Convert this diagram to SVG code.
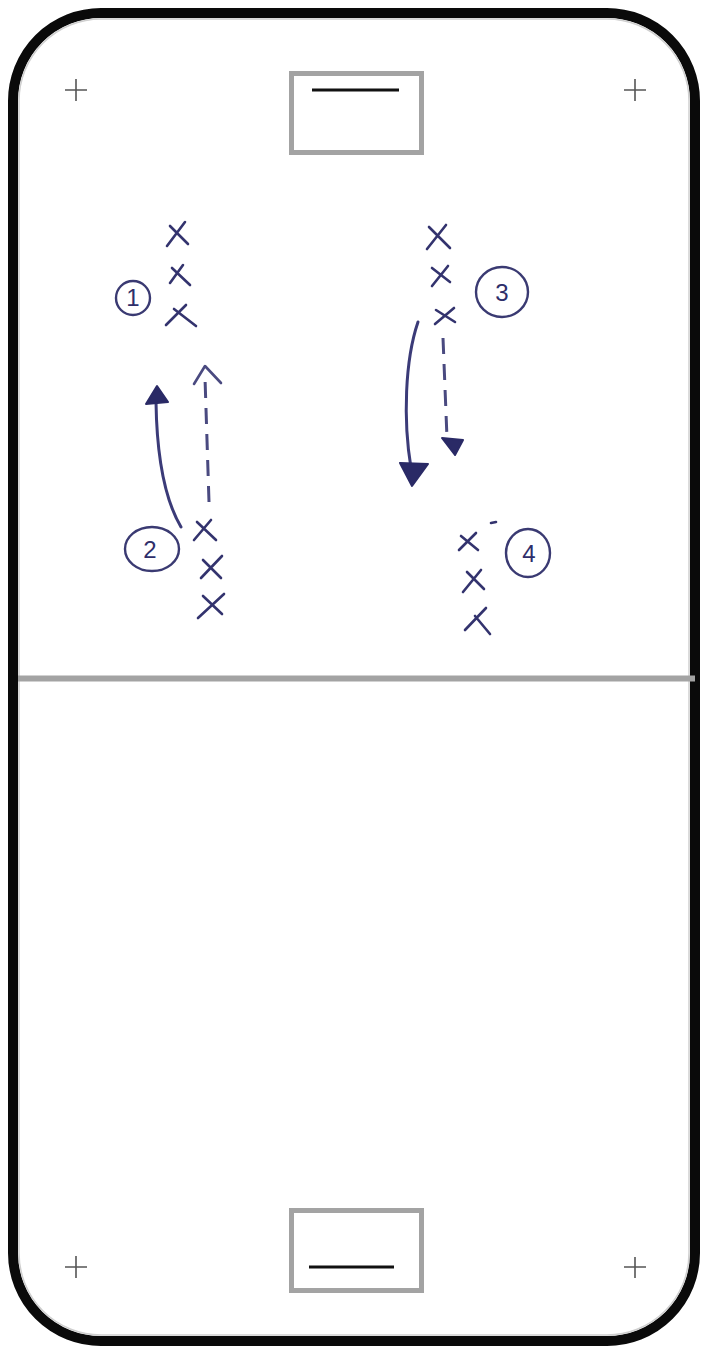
<svg xmlns="http://www.w3.org/2000/svg" width="702" height="1349" viewBox="0 0 702 1349">
  <defs>
    <style>
      .frame { fill: none; stroke: #0a0a0a; stroke-width: 10; }
      .frame-inner { fill: none; stroke: #cfcfcf; stroke-width: 1.5; }
      .halfway { stroke: #a3a3a3; stroke-width: 6; }
      .goal { fill: #ffffff; stroke: #a3a3a3; stroke-width: 5; }
      .goal-line { stroke: #111111; stroke-width: 3; }
      .corner { stroke: #555555; stroke-width: 1.6; }
      .player { fill: none; stroke: #33336e; stroke-width: 2.6; stroke-linecap: round; }
      .tag { fill: none; stroke: #3a3a72; stroke-width: 2.4; }
      .tag-text { font-family: "Liberation Sans", Arial, sans-serif; font-size: 24px; fill: #2e2e6a; text-anchor: middle; }
      .run { fill: none; stroke: #3b3b78; stroke-width: 3; stroke-linecap: round; }
      .pass { fill: none; stroke: #4a4a80; stroke-width: 3; stroke-dasharray: 16 10; }
      .head { fill: #2a2a66; stroke: #2a2a66; stroke-width: 2; stroke-linejoin: round; }
      .chevron { fill: none; stroke: #4a4a80; stroke-width: 2.6; stroke-linecap: round; stroke-linejoin: round; }
    </style>
  </defs>

  <rect width="702" height="1349" fill="#ffffff"/>

  <!-- pitch outline -->
  <g id="pitch">
    <rect class="frame" x="13" y="13" width="682" height="1328" rx="88" ry="88"/>
    <rect class="frame-inner" x="19" y="19" width="670" height="1316" rx="82" ry="82"/>
    <line class="halfway" x1="18" y1="678.5" x2="695" y2="678.5"/>
  </g>

  <!-- goals -->
  <g id="goal-top">
    <rect class="goal" x="291.5" y="73.5" width="130" height="79"/>
    <line class="goal-line" x1="312" y1="90" x2="399" y2="90"/>
  </g>
  <g id="goal-bottom">
    <rect class="goal" x="291.5" y="1210.5" width="130" height="80"/>
    <line class="goal-line" x1="309" y1="1267" x2="394" y2="1267"/>
  </g>

  <!-- corner marks -->
  <g id="corner-marks">
    <path class="corner" d="M65,90 H87 M76,79 V101"/>
    <path class="corner" d="M624,90 H646 M635,79 V101"/>
    <path class="corner" d="M65,1267 H87 M76,1256 V1278"/>
    <path class="corner" d="M624,1267 H646 M635,1257 V1278"/>
  </g>

  <!-- group 1 -->
  <g id="group-1">
    <path class="player" d="M185,222 L167,246 M170,226 L188,244"/>
    <path class="player" d="M183,265 L170,283 M172,268 L190,285"/>
    <path class="player" d="M186,305 L166,325 M174,309 L196,326"/>
    <ellipse class="tag" cx="133" cy="298" rx="17" ry="17"/>
    <text class="tag-text" x="133" y="306">1</text>
  </g>

  <!-- group 2 -->
  <g id="group-2">
    <path class="player" d="M211,520 L194,540 M197,522 L216,540"/>
    <path class="player" d="M222,556 L201,578 M203,560 L221,578"/>
    <path class="player" d="M224,594 L198,618 M203,596 L222,614"/>
    <ellipse class="tag" cx="152" cy="549" rx="27" ry="22"/>
    <text class="tag-text" x="150" y="558">2</text>
  </g>

  <!-- group 3 -->
  <g id="group-3">
    <path class="player" d="M446,225 L427,249 M429,227 L450,248"/>
    <path class="player" d="M448,266 L432,286 M432,268 L450,282"/>
    <path class="player" d="M454,308 L435,324 M436,310 L455,322"/>
    <ellipse class="tag" cx="502" cy="292" rx="26" ry="25"/>
    <text class="tag-text" x="502" y="301">3</text>
  </g>

  <!-- group 4 -->
  <g id="group-4">
    <path class="player" d="M476,533 L459,550 M461,536 L478,550"/>
    <path class="player" d="M481,570 L463,592 M467,572 L484,589"/>
    <path class="player" d="M486,608 L465,630 M475,616 L490,634"/>
    <path class="player" d="M491,523 L496,522"/>
    <ellipse class="tag" cx="528" cy="553" rx="22" ry="24"/>
    <text class="tag-text" x="529" y="562">4</text>
  </g>

  <!-- runs and passes -->
  <g id="connectors">
    <path class="run" d="M181,527 C168,505 157,470 156,402"/>
    <polygon class="head" points="157,386 146,404 168,402"/>
    <path class="pass" d="M209,502 L205,378"/>
    <path class="chevron" d="M194,384 L205,366 L221,383"/>

    <path class="run" d="M418,322 C405,360 403,420 411,468"/>
    <polygon class="head" points="412,486 400,463 428,464"/>
    <path class="pass" d="M443,338 L447,438"/>
    <polygon class="head" points="455,455 442,438 463,440"/>
  </g>
</svg>
